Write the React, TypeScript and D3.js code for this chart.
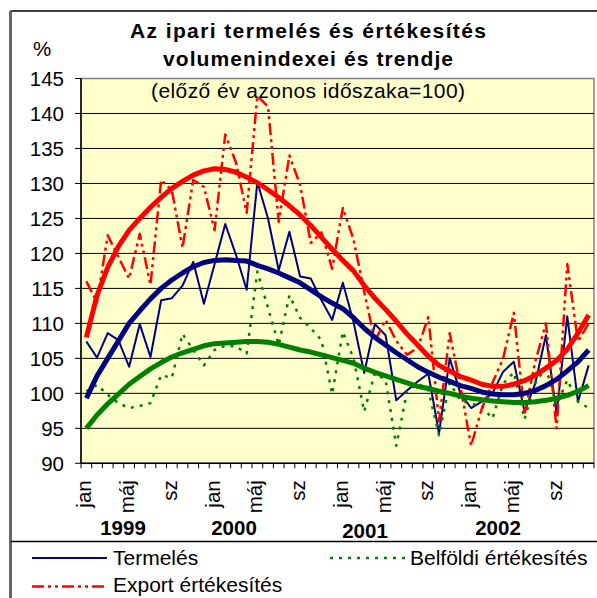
import React from "react";
import * as d3 from "d3";

// ---- data ----
const years = ["1999", "2000", "2001", "2002"];
const monthNames = ["jan", "feb", "márc", "ápr", "máj", "jún", "júl", "aug", "sz", "okt", "nov", "dec"];
const shownMonths = ["jan", "máj", "sz"];
const yTickValues = [90, 95, 100, 105, 110, 115, 120, 125, 130, 135, 140, 145];

const termeles = [
  107.4, 105.1, 108.6, 107.6, 103.8, 109.9, 105.2, 113.3, 113.6, 115.4, 118.8, 112.8,
  118.5, 124.2, 119.8, 114.8, 130.2, 125.0, 117.6, 123.1, 116.7, 116.4, 113.3, 110.5,
  115.8, 110.2, 102.9, 109.9, 108.3, 99.0, 100.4, 101.7, 102.8, 94.3, 105.0, 100.0,
  97.9, 98.8, 100.0, 103.1, 104.5, 97.4, 101.4, 108.3, 97.1, 111.0, 98.8, 104.0,
];
const belfoldi = [
  100.3, 101.2, 99.8, 98.6, 97.9, 98.2, 98.6, 102.6, 102.2, 108.5, 106.2, 104.0,
  106.2, 106.8, 106.7, 105.7, 117.4, 112.2, 106.9, 114.0, 110.8, 109.3, 107.6, 99.9,
  108.8, 105.0, 97.4, 102.9, 101.9, 92.5, 100.2, 101.4, 100.5, 94.0, 101.5, 99.0,
  98.5, 98.1, 96.4, 101.4, 103.0, 96.3, 101.5, 103.6, 98.3, 101.9, 98.8, 97.9,
];
const exportErt = [
  116.0, 113.0, 122.6, 119.5, 116.4, 122.8, 115.5, 130.5, 129.0, 120.8, 130.5, 129.5,
  123.3, 137.0, 133.0, 125.8, 142.5, 141.0, 124.5, 134.0, 129.8, 121.5, 123.0, 117.8,
  126.5, 122.0, 114.5, 107.5, 110.5, 107.5, 105.5, 106.5, 110.9, 96.0, 108.6, 101.0,
  92.5, 97.8, 101.5, 105.0, 111.5, 97.0, 104.5, 110.0, 95.0, 118.5, 107.4, 110.0,
];
const termelesTrend = [
  99.3, 102.5, 105.0, 107.5, 110.0, 111.8, 113.5, 115.0, 116.2, 117.2, 118.1, 118.7,
  119.0, 119.1, 119.0, 118.9, 118.3, 117.8, 117.2, 116.5, 115.8, 114.8, 113.8, 112.9,
  112.1, 110.8, 109.3, 108.0, 106.9, 105.8, 104.8, 103.8, 103.0, 102.3, 101.7, 101.1,
  100.7, 100.2, 99.9, 99.8, 99.8, 100.0, 100.4, 101.1, 102.0, 103.2, 104.5, 106.2,
];
const exportTrend = [
  108.0, 114.0, 118.0, 121.0, 123.3, 125.0, 126.6, 128.0, 129.3, 130.3, 131.2, 131.8,
  132.1, 132.0, 131.6, 130.9, 130.1, 129.1, 128.0, 126.8, 125.5, 124.0, 122.3, 120.6,
  119.0, 117.5, 115.4, 113.6, 112.0, 110.3, 108.5, 106.9, 105.3, 104.0, 103.2, 102.4,
  101.9, 101.3, 101.0, 101.0, 101.3, 101.8, 102.6, 103.6, 104.7, 106.3, 108.6, 111.2,
];
const belfoldiTrend = [
  95.0, 96.9, 98.5, 99.9, 101.3, 102.4, 103.5, 104.4, 105.2, 105.8, 106.3, 106.8,
  107.1, 107.2, 107.3, 107.4, 107.4, 107.3, 107.0, 106.6, 106.2, 105.9, 105.5, 105.1,
  104.7, 104.3, 103.6, 103.0, 102.5, 102.0, 101.5, 101.0, 100.7, 100.3, 100.0, 99.6,
  99.3, 99.1, 98.9, 98.8, 98.7, 98.7, 98.8, 99.0, 99.3, 99.7, 100.3, 101.1,
];

const titleLines = ["Az ipari termelés és értékesítés", "volumenindexei és trendje"];
const subtitle = "(előző év azonos időszaka=100)";
const legendNames = ["Termelés", "Belföldi értékesítés", "Export értékesítés"];

// ---- layout ----
const W = 597;
const H = 598;
const plot = { left: 81, right: 594, top: 78.5, bottom: 463.3 };
const FONT = "Arial, 'Liberation Sans', sans-serif";
const NAVY = "#000080";
const GREEN = "#008000";
const RED = "#FF0000";
const DOT = "3,6";
const DASHDOT = "12,4,3,4,3,4";

export default function App() {
  const categories = years.flatMap((yr) => monthNames.map((m) => `${yr} ${m}`));
  const x = d3.scaleBand<string>().domain(categories).range([plot.left, plot.right]).padding(0);
  const y = d3.scaleLinear().domain([90, 145]).range([plot.bottom, plot.top]);
  const cx = (i: number) => (x(categories[i]) as number) + x.bandwidth() / 2;
  const line = d3
    .line<number>()
    .x((_, i) => cx(i))
    .y((d) => y(d));

  const yearCenters = [123, 234, 365, 498];
  const yearY = [535, 535, 538, 535];

  return (
    <div style={{ position: "fixed", left: 0, top: 0 }}>
      <svg width={W} height={H} style={{ display: "block", background: "#fff" }} fontFamily={FONT}>
        <rect x={0} y={0} width={W} height={H} fill="#fff" />
        {/* outer chart border */}
        <rect x={11} y={11} width={W + 10} height={H + 10} fill="none" stroke="#000" strokeWidth={1.5} />
        <line x1={10.5} y1={11} x2={10.5} y2={H} stroke="#666" strokeWidth={3} />

        {/* title */}
        <text x={308} y={38} textAnchor="middle" fontWeight="bold" fontSize={21} textLength={356} lengthAdjust="spacing">
          {titleLines[0]}
        </text>
        <text x={308} y={66} textAnchor="middle" fontWeight="bold" fontSize={21} textLength={290} lengthAdjust="spacing">
          {titleLines[1]}
        </text>
        <text x={42} y={56} textAnchor="middle" fontSize={20.5}>
          %
        </text>

        {/* plot area */}
        <rect
          x={plot.left}
          y={plot.top}
          width={plot.right - plot.left}
          height={plot.bottom - plot.top}
          fill="#FFFFCC"
          stroke="#808080"
          strokeWidth={1.5}
        />
        <text x={308} y={98} textAnchor="middle" fontSize={21} textLength={314} lengthAdjust="spacing">
          {subtitle}
        </text>

        {/* gridlines & y axis */}
        {yTickValues.map((v) => (
          <g key={v}>
            {v > 90 && v < 145 && (
              <line x1={plot.left} x2={plot.right} y1={y(v)} y2={y(v)} stroke="#000" strokeWidth={1} />
            )}
            <line x1={plot.left - 6} x2={plot.left} y1={y(v)} y2={y(v)} stroke="#000" strokeWidth={1} />
            <text x={64} y={y(v) + 7.5} textAnchor="end" fontSize={20.5}>
              {v}
            </text>
          </g>
        ))}
        <line x1={plot.left} x2={plot.left} y1={plot.top} y2={plot.bottom} stroke="#000" strokeWidth={1.5} />
        <line x1={plot.left} x2={plot.right} y1={plot.bottom} y2={plot.bottom} stroke="#000" strokeWidth={1.5} />

        {/* x ticks */}
        {categories.map((c) => (
          <line
            key={c}
            x1={x(c) as number}
            x2={x(c) as number}
            y1={plot.bottom}
            y2={plot.bottom + 5}
            stroke="#000"
            strokeWidth={1}
          />
        ))}
        <line x1={plot.right} x2={plot.right} y1={plot.bottom} y2={plot.bottom + 5} stroke="#000" />

        {/* month labels */}
        {categories.map((c, i) => {
          const m = monthNames[i % 12];
          if (!shownMonths.includes(m)) return null;
          return (
            <text
              key={c}
              transform={`translate(${cx(i) + 5},${plot.bottom + 17}) rotate(-90)`}
              textAnchor="end"
              fontSize={20.5}
            >
              {m}
            </text>
          );
        })}
        {years.map((yr, k) => (
          <text key={yr} x={yearCenters[k]} y={yearY[k]} textAnchor="middle" fontWeight="bold" fontSize={20.5}>
            {yr}
          </text>
        ))}

        {/* series */}
        <g fill="none" strokeLinejoin="round">
          <path d={line(termeles) as string} stroke={NAVY} strokeWidth={2} />
          <path d={line(belfoldi) as string} stroke={GREEN} strokeWidth={2.5} strokeDasharray={DOT} />
          <path d={line(exportErt) as string} stroke={RED} strokeWidth={2.5} strokeDasharray={DASHDOT} />
          <path d={line(termelesTrend) as string} stroke={NAVY} strokeWidth={5} />
          <path d={line(belfoldiTrend) as string} stroke={GREEN} strokeWidth={5} />
          <path d={line(exportTrend) as string} stroke={RED} strokeWidth={5} />
        </g>

        {/* legend */}
        <line x1={11} x2={W} y1={541.5} y2={541.5} stroke="#000" strokeWidth={1.5} />
        <line x1={32} x2={107} y1={558} y2={558} stroke={NAVY} strokeWidth={2} />
        <text x={113} y={564.5} fontSize={21}>
          {legendNames[0]}
        </text>
        <line x1={330} x2={405} y1={558} y2={558} stroke={GREEN} strokeWidth={2.5} strokeDasharray={DOT} />
        <text x={410} y={564.5} fontSize={21}>
          {legendNames[1]}
        </text>
        <line x1={32} x2={107} y1={586.5} y2={586.5} stroke={RED} strokeWidth={2.5} strokeDasharray={DASHDOT} />
        <text x={113} y={592} fontSize={21}>
          {legendNames[2]}
        </text>
      </svg>
    </div>
  );
}
